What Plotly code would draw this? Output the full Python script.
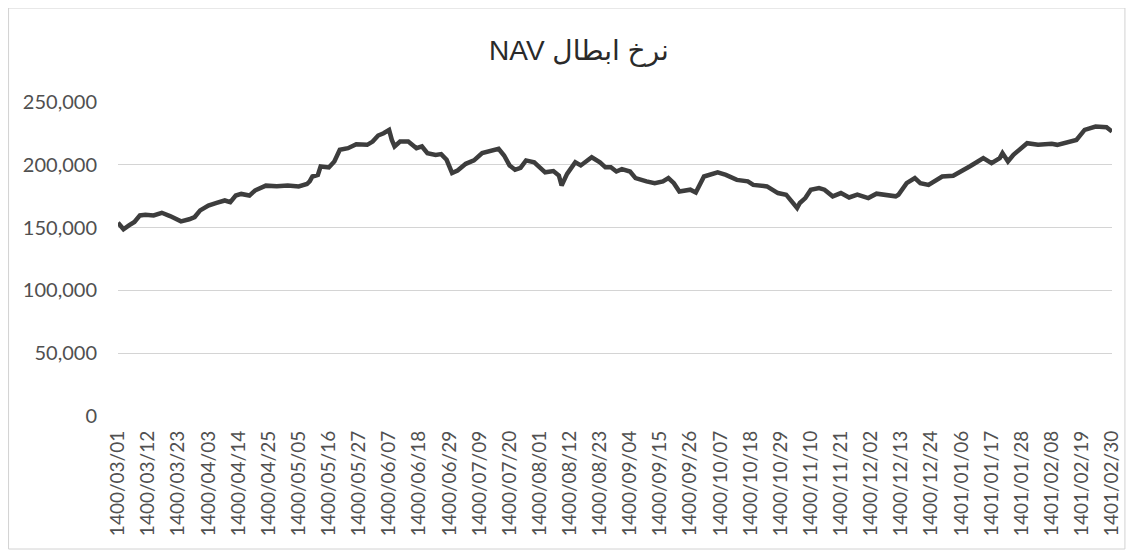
import plotly.graph_objects as go

# ---- data ----
day_offset = [0, 1, 2, 4, 6, 8, 10, 13, 16, 19, 22, 23, 26, 28, 30, 33, 36, 39, 41, 43,
              45, 48, 50, 54, 58, 60, 62, 66, 69, 70, 71, 73, 74, 77, 79, 81, 84, 87, 91, 93,
              95, 97, 99, 100, 101, 103, 106, 109, 111, 113, 116, 118, 120, 122, 124, 127, 130, 133, 136, 139,
              141, 143, 145, 147, 149, 152, 154, 156, 159, 161, 162, 164, 167, 169, 173, 176, 178, 180, 182, 184,
              187, 189, 193, 196, 199, 201, 203, 205, 209, 211, 214, 216, 219, 222, 226, 230, 232, 237, 241, 244,
              246, 248, 249, 251, 253, 256, 258, 261, 264, 267, 270, 274, 277, 281, 284, 285, 288, 291, 293, 296,
              299, 301, 305, 308, 311, 314, 316, 319, 322, 323, 325, 327, 330, 332, 336, 341, 343, 347, 350, 351,
              353, 357, 361, 363]

nav_value = [153900, 150500, 148700, 151800, 154500, 159700, 160300, 159700, 161800, 159200,
             156600, 155000, 156600, 158400, 163700, 167600, 169700, 171600, 170300, 175500,
             176800, 175500, 179500, 183400, 182900, 183400, 183600, 182800, 184700, 186800,
             190700, 192000, 198700, 197900, 202600, 211900, 213200, 216400, 215900, 218500,
             223300, 225100, 227800, 219800, 214600, 218500, 218500, 213200, 214600, 209300,
             207900, 208500, 204000, 193500, 195500, 200800, 203500, 209300, 211400, 212800,
             207400, 199500, 196000, 197600, 203500, 202000, 198000, 194000, 195000, 191500,
             183500, 192800, 202000, 199500, 206000, 202000, 198000, 198000, 194700, 196500,
             194700, 189400, 186800, 185400, 186800, 189400, 185400, 178800, 180200, 178000,
             190700, 192000, 194000, 192000, 188000, 186800, 184000, 182800, 177500, 176200,
             170900, 165600, 169600, 173500, 180200, 181500, 180200, 174900, 177500, 174000,
             176200, 173500, 177000, 176200, 174900, 176200, 185400, 189400, 185400, 184000,
             188000, 190700, 191300, 194700, 198700, 202600, 205300, 201300, 205300, 209300,
             202600, 208000, 213200, 217200, 215900, 216700, 215900, 218500, 219800, 222500,
             227800, 230400, 229900, 226500]

tick_labels = ["1400/03/01", "1400/03/12", "1400/03/23", "1400/04/03", "1400/04/14", "1400/04/25",
               "1400/05/05", "1400/05/16", "1400/05/27", "1400/06/07", "1400/06/18", "1400/06/29",
               "1400/07/09", "1400/07/20", "1400/08/01", "1400/08/12", "1400/08/23", "1400/09/04",
               "1400/09/15", "1400/09/26", "1400/10/07", "1400/10/18", "1400/10/29", "1400/11/10",
               "1400/11/21", "1400/12/02", "1400/12/13", "1400/12/24", "1401/01/06", "1401/01/17",
               "1401/01/28", "1401/02/08", "1401/02/19", "1401/02/30"]
tick_step_days = 11

y_ticks = [0, 50000, 100000, 150000, 200000, 250000]
title_text = "\u202Bنرخ ابطال NAV\u202C"

# ---- layout constants (figure sits 8px inside the page because of body margin) ----
W, H = 1126, 547
ML, MR, MT, MB = 110, 17, 94, 139
text_color = "#505050"
font_family = "Lato, 'Open Sans', sans-serif"

fig = go.Figure()
fig.add_trace(go.Scatter(
    x=day_offset, y=nav_value, mode="lines",
    line=dict(color="#3d3d3d", width=4.5),
    hoverinfo="x+y", showlegend=False,
))

tick_vals = [i * tick_step_days for i in range(len(tick_labels))]

fig.update_layout(
    width=W, height=H,
    margin=dict(l=ML, r=MR, t=MT, b=MB, pad=0),
    paper_bgcolor="white", plot_bgcolor="white",
    title=dict(text=title_text, x=571 / W, xref="container", xanchor="center",
               y=1 - 42 / H, yref="container", yanchor="middle",
               font=dict(family="'Liberation Sans', 'DejaVu Sans', Arial, sans-serif", size=28, color="#2a2a2a")),
    xaxis=dict(range=[tick_vals[0], tick_vals[-1]], tickmode="array", tickvals=tick_vals,
               ticktext=tick_labels, tickangle=-90, showgrid=False, zeroline=False,
               showline=False, ticks="", ticklabelstandoff=10,
               tickfont=dict(family=font_family, size=19, color=text_color)),
    yaxis=dict(range=[0, 250000], tickmode="array", tickvals=y_ticks,
               ticktext=[f"{v:,}" for v in y_ticks], showgrid=True,
               gridcolor="#d4d4d4", gridwidth=1, zeroline=False, showline=False,
               ticks="", ticklabelstandoff=20,
               tickfont=dict(family=font_family, size=20, color=text_color)),
)

# light chart-area border like the scanned Excel frame
pw, ph = W - ML - MR, H - MT - MB
fig.add_shape(type="rect", xref="paper", yref="paper",
              x0=(0 - ML) / pw, x1=(W - 4 - ML) / pw,
              y0=(H - MB - (H - 6)) / ph, y1=(H - MB - 0) / ph,
              line=dict(color="#d2d2d2", width=1), layer="below")

fig.write_html("out.html")
